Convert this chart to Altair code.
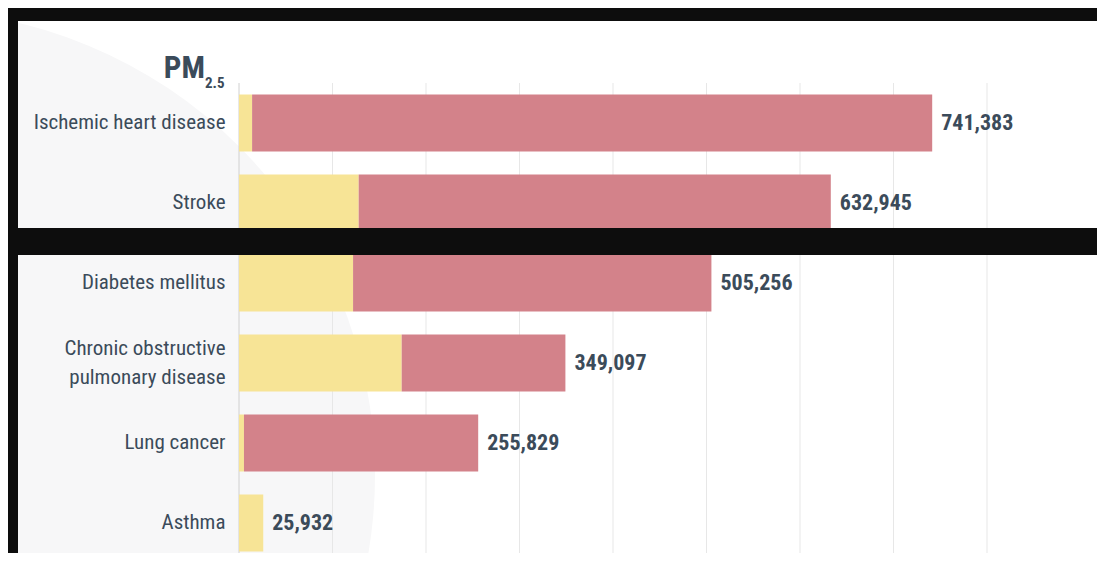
import altair as alt
import pandas as pd

# ---- data ----
categories = [
    "Ischemic heart disease",
    "Stroke",
    "Diabetes mellitus",
    "Chronic obstructive\npulmonary disease",
    "Lung cancer",
    "Asthma",
]
totals = [741383, 632945, 505256, 349097, 255829, 25932]
part_yellow = [14000, 128000, 122000, 174000, 5300, 25932]
part_red = [727383, 504945, 383256, 175097, 250529, 0]
series = ["Part A", "Part B"]
series_colors = ["#f7e496", "#d3828a"]
grid_values = [100000, 200000, 300000, 400000, 500000, 600000, 700000, 800000]
axis_values = [0]

FONT = "'Roboto Condensed', 'Liberation Sans Narrow', 'DejaVu Sans Condensed', Roboto, sans-serif"
TEXT_COLOR = "#3b4b5a"

W, H = 748, 470

rows = []
for c, a, b in zip(categories, part_yellow, part_red):
    rows.append({"cause": c, "series": series[0], "value": a, "ord": 0})
    rows.append({"cause": c, "series": series[1], "value": b, "ord": 1})
bars_df = pd.DataFrame(rows)
tot_df = pd.DataFrame({"cause": categories, "total": totals})
grid_df = pd.DataFrame({"g": grid_values})
axis_df = pd.DataFrame({"g": axis_values})
one = pd.DataFrame({"k": [0]})

xscale = alt.Scale(domain=[0, 800000])
yscale = alt.Scale(domain=categories, range=[0, 480], paddingInner=0.2875, paddingOuter=0.14375)

y_enc = alt.Y(
    "cause:N",
    sort=categories,
    scale=yscale,
    axis=alt.Axis(
        title=None,
        ticks=False,
        domain=False,
        labelFont=FONT,
        labelFontSize=21,
        labelColor=TEXT_COLOR,
        labelPadding=14,
        labelLimit=400,
        labelLineHeight=29,
        labelExpr="split(datum.label, '\\n')",
        labelOffset=alt.condition("indexof(datum.value, '\\n') >= 0", alt.value(-14), alt.value(0)),
        zindex=1,
    ),
)

# faint decorative disc behind the left part of the chart
circle = alt.Chart(one).mark_circle(
    size=930 ** 2, color="#f7f7f8", opacity=1
).encode(x=alt.value(-329), y=alt.value(392))

grid = alt.Chart(grid_df).mark_rule(color="#e7e7e7", strokeWidth=1).encode(
    x=alt.X("g:Q", scale=xscale, axis=None)
)
axis_line = alt.Chart(axis_df).mark_rule(color="#d0d0d0", strokeWidth=1).encode(
    x=alt.X("g:Q", scale=xscale, axis=None)
)

bars = alt.Chart(bars_df).mark_bar().encode(
    y=y_enc,
    x=alt.X("value:Q", stack="zero", scale=xscale, axis=None),
    color=alt.Color("series:N", scale=alt.Scale(domain=series, range=series_colors), legend=None),
    order=alt.Order("ord:Q"),
)

labels = alt.Chart(tot_df).mark_text(
    align="left", baseline="middle", dx=9, font=FONT, fontSize=22, fontWeight="bold", color=TEXT_COLOR
).encode(
    y=alt.Y("cause:N", sort=categories, scale=yscale),
    x=alt.X("total:Q", scale=xscale, axis=None),
    text=alt.Text("total:Q", format=","),
)

title_pm = alt.Chart(one).mark_text(
    text="PM", align="right", baseline="alphabetic", font=FONT, fontSize=31, fontWeight="bold", color=TEXT_COLOR
).encode(x=alt.value(-34), y=alt.value(-5))
title_sub = alt.Chart(one).mark_text(
    text="2.5", align="left", baseline="alphabetic", font=FONT, fontSize=15, fontWeight="bold", color=TEXT_COLOR
).encode(x=alt.value(-34), y=alt.value(5))

band_top = alt.Chart(one).mark_rect(color="#0d0d0d").encode(
    x=alt.value(-231), x2=alt.value(858), y=alt.value(-75), y2=alt.value(-62)
)
band_left = alt.Chart(one).mark_rect(color="#0d0d0d").encode(
    x=alt.value(-231), x2=alt.value(-221), y=alt.value(-75), y2=alt.value(H)
)
band_mid = alt.Chart(one).mark_rect(color="#0d0d0d").encode(
    x=alt.value(-231), x2=alt.value(858), y=alt.value(145), y2=alt.value(172)
)

chart = (
    alt.layer(circle, grid, axis_line, bars, labels, title_pm, title_sub, band_top, band_left, band_mid)
    .resolve_scale(x="shared", y="shared")
    .properties(
        width=W,
        height=H,
        autosize=alt.AutoSizeParams(type="none"),
        padding={"left": 231, "top": 75, "right": 110, "bottom": 0},
        background="white",
    )
    .configure_view(stroke=None)
)

chart.save("out.html", embed_options={"renderer": "svg", "actions": False})
